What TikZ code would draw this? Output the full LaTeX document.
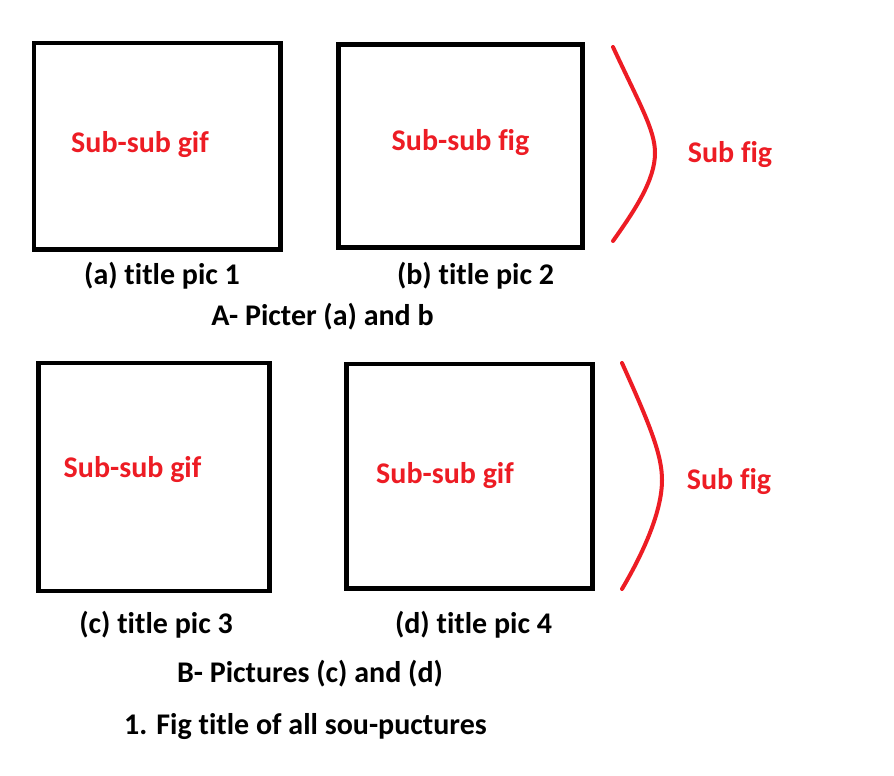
\documentclass[tikz,border=0pt]{standalone}
\usepackage{fontspec}
\setmainfont{Carlito}[Ligatures=NoCommon]
\definecolor{pred}{RGB}{237,28,36}
\begin{document}
\begin{tikzpicture}[x=1pt,y=-1pt,
  frame/.style={draw=black,line width=4.5pt,rectangle,inner sep=0pt,outer sep=0pt},
  redtxt/.style={text=pred,font=\fontsize{30}{36}\selectfont\bfseries,anchor=base,inner sep=0pt},
  blktxt/.style={text=black,font=\fontsize{30}{36}\selectfont\bfseries,anchor=base,inner sep=0pt},
  brace/.style={draw=pred,line width=4pt,line cap=round}]
\useasboundingbox[fill=white] (0,0) rectangle (894,776);
% boxes
\node[frame,minimum width=246.5pt,minimum height=206.5pt] (b1) at (157.25,146.25) {};
\node[frame,minimum width=244pt,minimum height=203pt] (b2) at (460.5,146) {};
\node[frame,minimum width=231pt,minimum height=228pt] (b3) at (154,477) {};
\node[frame,minimum width=246pt,minimum height=224.5pt] (b4) at (469.5,476.25) {};
% inner labels
\node[redtxt] (s1) at (140,152) {Sub-sub gif};
\node[redtxt] (s2) at (460.5,150) {Sub-sub fig};
\node[redtxt] (s3) at (132.5,477) {Sub-sub gif};
\node[redtxt] (s4) at (445,483) {Sub-sub gif};
\node[redtxt] (f1) at (730,162) {Sub fig};
\node[redtxt] (f2) at (729,489) {Sub fig};
% titles
\node[blktxt] (ta) at (162,284) {(a) title pic 1};
\node[blktxt] (tb) at (475.5,284) {(b) title pic 2};
\node[blktxt] (ca) at (322.5,325) {A- Picter (a) and b};
\node[blktxt] (tc) at (156,633) {(c) title pic 3};
\node[blktxt] (td) at (473.5,633) {(d) title pic 4};
\node[blktxt] (cb) at (310,682) {B- Pictures (c) and (d)};
\node[blktxt] (cm) at (305.5,734) {1. Fig title of all sou-puctures};
% braces
\coordinate (u1) at (613,47);
\coordinate (m1) at (655,153);
\coordinate (l1) at (613,241);
\draw[brace] (u1) .. controls (640,105) and (655,130) .. (m1) .. controls (655,180) and (635,210) .. (l1);
\coordinate (u2) at (622,363);
\coordinate (m2) at (662,480);
\coordinate (l2) at (622,589);
\draw[brace] (u2) .. controls (650,425) and (662,455) .. (m2) .. controls (662,510) and (645,550) .. (l2);
\end{tikzpicture}
\end{document}
